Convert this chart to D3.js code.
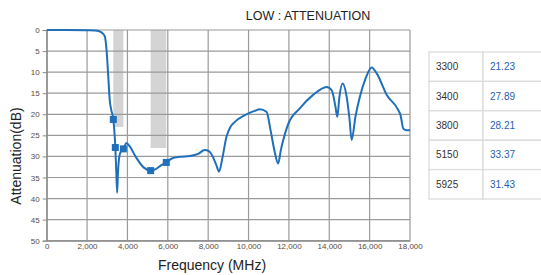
<!DOCTYPE html>
<html>
<head>
<meta charset="utf-8">
<script src="https://cdn.jsdelivr.net/npm/d3@7"></script>
<style>
body { margin: 0; background: #fff; }
svg { display: block; font-family: "Liberation Sans", Arial, sans-serif; }
</style>
</head>
<body>
<div id="chart"></div>
<script>
// curve: frequency (MHz), attenuation (dB)
var freq = [0, 1000, 2000, 2400, 2600, 2750, 2880, 2960, 3050, 3120, 3200, 3300, 3400, 3450, 3490, 3530, 3600, 3700, 3800, 3950,
  4100, 4400, 4800, 5150, 5400, 5700, 5925, 6200, 6600, 7100, 7500, 7830, 8050, 8200, 8400, 8540, 8700, 8910, 9100, 9320,
  9820, 10300, 10560, 10890, 11100, 11300, 11470, 11600, 11720, 11950, 12540, 13200, 13870, 14120, 14300, 14400, 14500, 14660, 14860, 15000,
  15110, 15300, 15520, 15800, 16100, 16350, 16850, 17420, 17530, 17670, 17830, 18000];
var atten = [0, 0, 0.05, 0.1, 0.3, 0.7, 1.5, 4.5, 11, 16.5, 19, 21.23, 27.89, 34, 38.6, 34, 30, 28.6, 28.21, 26.8,
  27.5, 30, 32.6, 33.37, 33, 32, 31.43, 30.5, 30.1, 29.9, 29.4, 28.5, 28.8, 29.8, 32, 33.6, 30.5, 25.3, 23, 21.8,
  20.2, 19.2, 18.8, 19.4, 24, 29, 31.7, 28.5, 26.1, 22.5, 18.6, 15.4, 13.5, 14.3, 18, 20.6, 16, 12.7, 15.8, 21,
  26.1, 20.5, 15.8, 11.5, 8.9, 10.3, 15.4, 19, 20.2, 23.4, 23.8, 23.8];

// marked points (also shown in the table)
var markFreq = [3300, 3400, 3800, 5150, 5925];
var markVal = [21.23, 27.89, 28.21, 33.37, 31.43];

// spec bands: start, end, depth (dB)
var bandStart = [3300, 5150];
var bandEnd = [3800, 5925];
var bandDepth = [23, 28];

var xTicks = d3.range(0, 18001, 2000);
var yTicks = d3.range(0, 51, 5);

var width = 541, height = 275;
var margin = {top: 30, right: 131, bottom: 34, left: 47};

var svg = d3.select("#chart").append("svg")
    .attr("width", width)
    .attr("height", height);

var x = d3.scaleLinear().domain([0, 18000]).range([margin.left - 0.3, width - margin.right]);
var y = d3.scaleLinear().domain([0, 50]).range([margin.top, height - margin.bottom - 0.3]);

// bands
svg.selectAll(".band")
    .data(bandStart)
    .enter().append("rect")
    .attr("x", function(d) { return x(d); })
    .attr("y", y(0))
    .attr("width", function(d, i) { return x(bandEnd[i]) - x(d); })
    .attr("height", function(d, i) { return y(bandDepth[i]) - y(0); })
    .attr("fill", "#d4d4d4");

// grid
svg.append("g").selectAll("line")
    .data(xTicks)
    .enter().append("line")
    .attr("x1", function(d) { return x(d); })
    .attr("x2", function(d) { return x(d); })
    .attr("y1", y(0))
    .attr("y2", y(50))
    .attr("stroke", "#9a9a9a")
    .attr("stroke-width", 1.2);

svg.append("g").selectAll("line")
    .data(yTicks)
    .enter().append("line")
    .attr("x1", x(0))
    .attr("x2", x(18000))
    .attr("y1", function(d) { return y(d); })
    .attr("y2", function(d) { return y(d); })
    .attr("stroke", "#9a9a9a")
    .attr("stroke-width", 1.2);

// axes
var xAxis = d3.axisBottom(x).tickValues(xTicks).tickSize(0).tickPadding(4).tickFormat(d3.format(","));
var yAxis = d3.axisLeft(y).tickValues(yTicks).tickSize(4).tickPadding(3);

var gx = svg.append("g")
    .attr("transform", "translate(0," + y(50) + ")")
    .call(xAxis);
var gy = svg.append("g")
    .attr("transform", "translate(" + x(0) + ",0)")
    .call(yAxis);

[gx, gy].forEach(function(g) {
    g.select(".domain").attr("stroke", "#8a8a8a").attr("stroke-width", 1.2);
    g.selectAll(".tick line").attr("stroke", "#8a8a8a");
    g.selectAll("text").attr("fill", "#5a4a3a").style("font-size", "8px").style("font-family", "Liberation Sans, Arial, sans-serif");
});
gx.selectAll("text").attr("dy", "0.6em");

// curve
var line = d3.line()
    .x(function(d) { return x(d); })
    .y(function(d, i) { return y(atten[i]); })
    .curve(d3.curveMonotoneX);

svg.append("path")
    .datum(freq)
    .attr("d", line)
    .attr("fill", "none")
    .attr("stroke", "#1f6fba")
    .attr("stroke-width", 2);

svg.selectAll(".mark")
    .data(markFreq)
    .enter().append("rect")
    .attr("x", function(d) { return x(d) - 3.5; })
    .attr("y", function(d, i) { return y(markVal[i]) - 3.5; })
    .attr("width", 7)
    .attr("height", 7)
    .attr("fill", "#1f6fba");

// titles
svg.append("text")
    .attr("x", 308)
    .attr("y", 20)
    .attr("text-anchor", "middle")
    .style("font-size", "12.5px")
    .attr("fill", "#222")
    .text("LOW : ATTENUATION");

svg.append("text")
    .attr("x", 212)
    .attr("y", 270)
    .attr("text-anchor", "middle")
    .style("font-size", "14px")
    .attr("fill", "#222")
    .text("Frequency (MHz)");

svg.append("text")
    .attr("transform", "translate(21,156) rotate(-90)")
    .attr("text-anchor", "middle")
    .style("font-size", "14px")
    .attr("fill", "#222")
    .text("Attenuation(dB)");

// table
var tx = 429, ty = 52, rowH = 29.4, col1 = 54, col2 = 70;
var rows = svg.append("g").selectAll("g")
    .data(markFreq)
    .enter().append("g")
    .attr("transform", function(d, i) { return "translate(" + tx + "," + (ty + i * rowH) + ")"; });

rows.append("rect")
    .attr("width", col1)
    .attr("height", rowH)
    .attr("fill", "#fff")
    .attr("stroke", "#dcdcdc")
    .attr("stroke-width", 1.3);
rows.append("rect")
    .attr("x", col1)
    .attr("width", col2)
    .attr("height", rowH)
    .attr("fill", "#fff")
    .attr("stroke", "#dcdcdc")
    .attr("stroke-width", 1.3);
rows.append("text")
    .attr("x", 7)
    .attr("y", rowH / 2 + 3.5)
    .style("font-size", "10px")
    .attr("fill", "#333")
    .text(function(d) { return d; });
rows.append("text")
    .attr("x", col1 + 7)
    .attr("y", rowH / 2 + 3.5)
    .style("font-size", "10px")
    .attr("fill", "#1f5fb0")
    .text(function(d, i) { return markVal[i].toFixed(2); });
</script>
</body>
</html>
